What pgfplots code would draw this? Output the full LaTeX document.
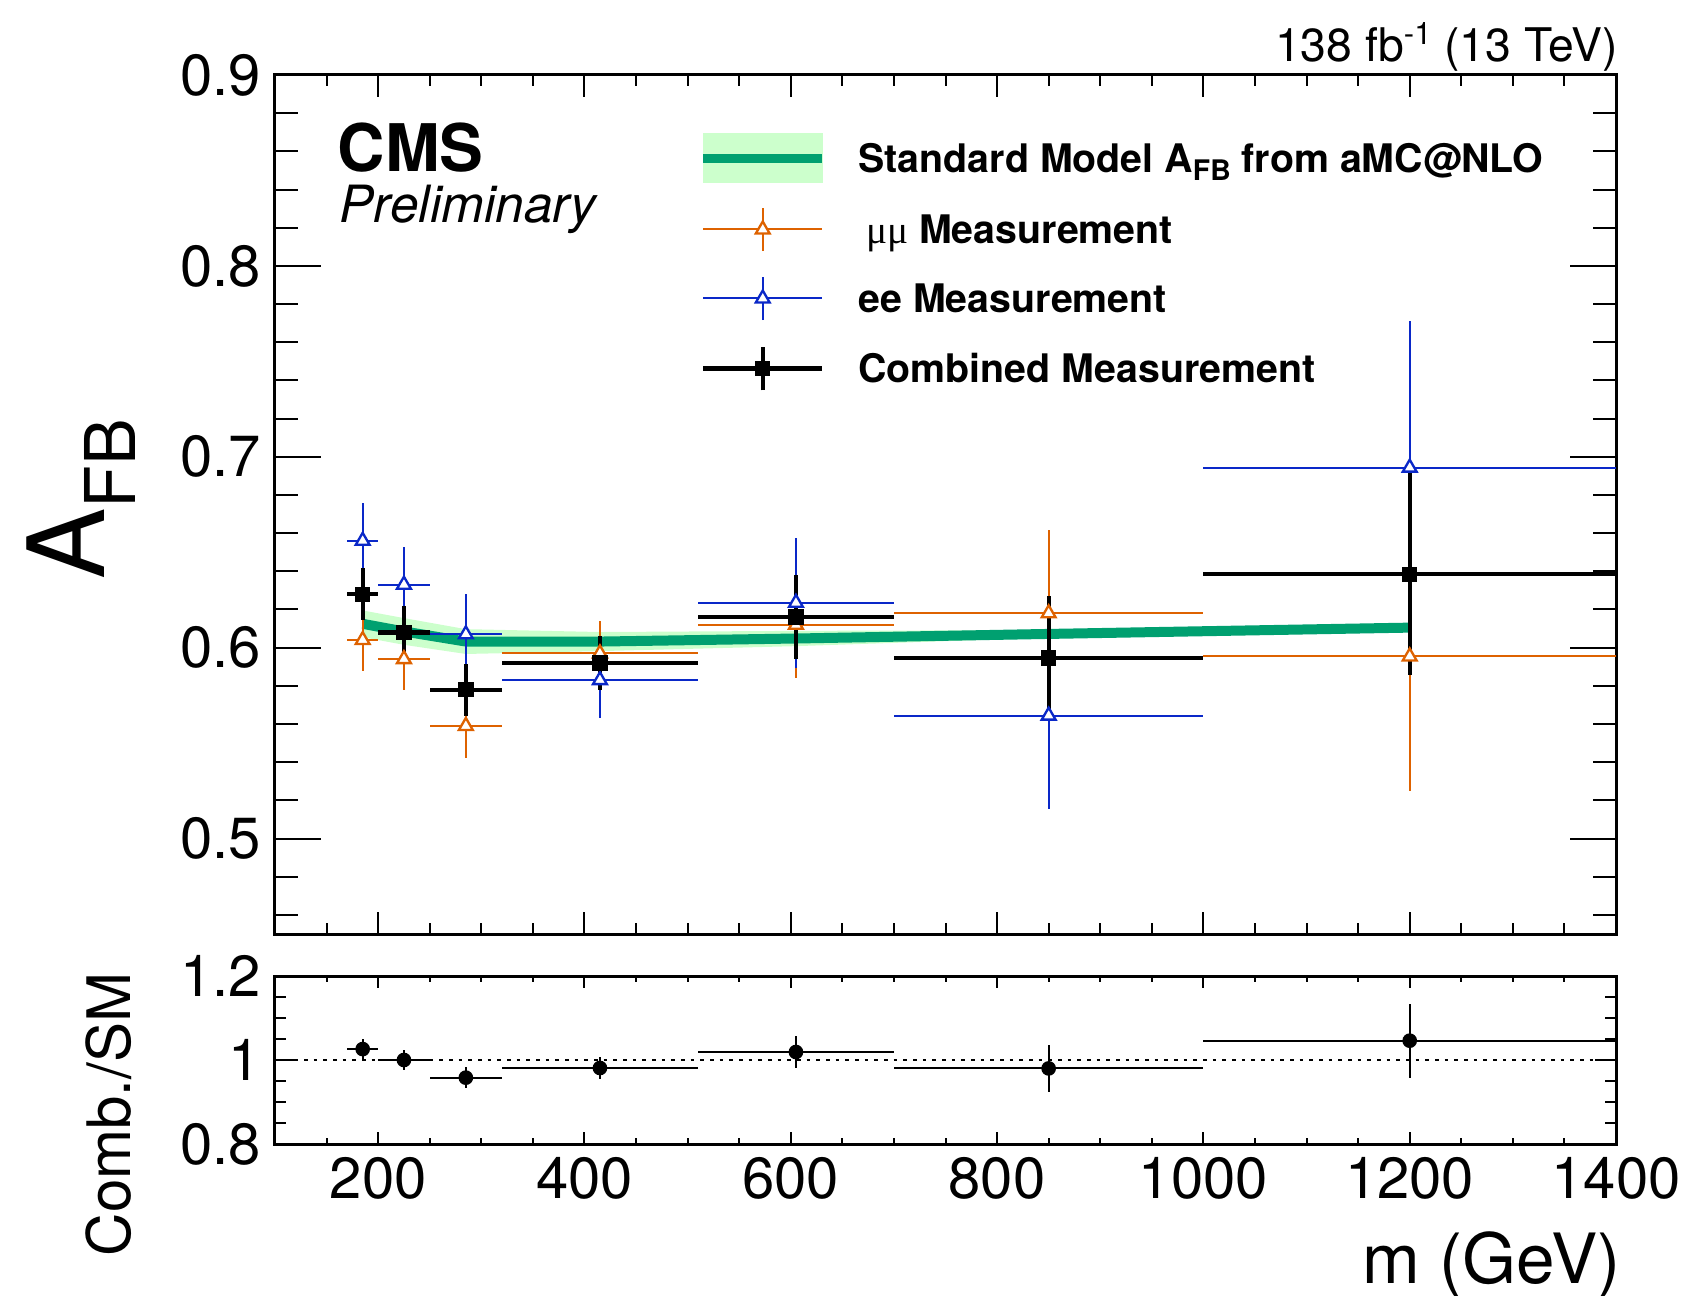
\documentclass[border=0pt]{standalone}
\usepackage{fontspec}
\setmainfont{TeX Gyre Heros}
\newfontfamily\mufont{Liberation Serif}
\usepackage{pgfplots}
\usepackage{pgfplotstable}
\pgfplotsset{compat=1.18}
\definecolor{smgreen}{RGB}{0,160,112}
\definecolor{bandgreen}{RGB}{204,255,204}
\definecolor{muorange}{RGB}{222,98,0}
\definecolor{eeblue}{RGB}{10,40,200}

\pgfplotstableread{
x y ex ey
185 0.628 15 0.0137
225 0.608 25 0.014
285 0.578 35 0.0137
415 0.592 95 0.014
605 0.616 95 0.022
850 0.5946 150 0.0325
1200 0.6385 200 0.053
}\combined
\pgfplotstableread{
x y ex ey
185 0.604 15 0.016
225 0.594 25 0.016
285 0.559 35 0.017
415 0.597 95 0.017
605 0.612 95 0.028
850 0.618 150 0.0435
1200 0.5954 200 0.0706
}\mumu
\pgfplotstableread{
x y ex ey
185 0.656 15 0.020
225 0.633 25 0.020
285 0.607 35 0.021
415 0.583 95 0.020
605 0.6235 95 0.034
850 0.5644 150 0.049
1200 0.6943 200 0.077
}\ee
\pgfplotstableread{
x y
185 0.6125
225 0.6085
285 0.6032
415 0.6032
605 0.6048
850 0.6072
1200 0.6105
}\sm
\pgfplotstableread{
x y ex ey
185 1.026 15 0.023
225 1.000 25 0.024
285 0.958 35 0.025
415 0.981 95 0.026
605 1.019 95 0.037
850 0.980 150 0.055
1200 1.046 200 0.088
}\ratio

\pgfplotsset{
  cmsaxis/.style={
    scale only axis, width=402.3pt,
    xmin=100, xmax=1400,
    axis line style={line width=0.9pt},
    every tick/.style={line width=0.6pt, black},
    tick align=inside,
    xtick={200,400,...,1400},
    minor xtick={100,150,...,1400},
    tick label style={font=\fontsize{17.4}{17.4}\selectfont, inner sep=0pt},
    /pgf/number format/assume math mode=true,
    yticklabel shift=4.1pt,
    xticklabel shift=3.9pt,
  }
}

\begin{document}
\begin{tikzpicture}
\path[use as bounding box] (-82.5pt,-108.3pt) rectangle (424.8pt,280.2pt);
\begin{axis}[cmsaxis,
  at={(0pt,0pt)}, anchor=south west, height=257.7pt,
  ymin=0.45, ymax=0.9,
  ytick={0.5,0.6,0.7,0.8,0.9},
  yticklabels={0.5,0.6,0.7,0.8,0.9},
  minor ytick={0.46,0.48,...,0.9},
  xticklabels={},
  xtick style={/pgfplots/major tick length=6.6pt,/pgfplots/minor tick length=3.3pt},
  ytick style={/pgfplots/major tick length=13.8pt,/pgfplots/minor tick length=6.9pt},
  legend style={at={(0.316,0.9323)}, anchor=north west, draw=none, fill=none,
    inner sep=0pt, outer sep=0pt, row sep=7.1pt, column sep=9.5pt,
    font=\fontsize{11.8}{11.8}\selectfont\bfseries,
    nodes={inner sep=0pt, text height=8.5pt, text depth=0pt}},
  legend cell align=left,
]
% SM band and line
\addplot[fill=bandgreen, draw=none, forget plot] coordinates {
 (185,0.6195) (225,0.6155) (285,0.6097) (415,0.6082) (605,0.6088) (850,0.6092) (1200,0.6115)
 (1200,0.6095) (850,0.6052) (605,0.6008) (415,0.5982) (285,0.5967) (225,0.6015) (185,0.6055)} -- cycle;
\addplot[smgreen, line width=3pt, forget plot] table[x=x,y=y] {\sm};
% mumu
\addplot[only marks, forget plot, mark=triangle*, mark size=2.4pt,
  mark options={draw=muorange, fill=white, line width=0.7pt},
  error bars/.cd, x dir=both, x explicit, y dir=both, y explicit, error mark=none,
  error bar style={muorange, line width=0.6pt}]
  table[x=x,y=y,x error=ex,y error=ey] {\mumu};
% ee
\addplot[only marks, forget plot, mark=triangle*, mark size=2.4pt,
  mark options={draw=eeblue, fill=white, line width=0.7pt},
  error bars/.cd, x dir=both, x explicit, y dir=both, y explicit, error mark=none,
  error bar style={eeblue, line width=0.6pt}]
  table[x=x,y=y,x error=ex,y error=ey] {\ee};
% combined
\addplot[only marks, forget plot, mark=square*, mark size=2.1pt,
  mark options={black},
  error bars/.cd, x dir=both, x explicit, y dir=both, y explicit, error mark=none,
  error bar style={black, line width=1.3pt}]
  table[x=x,y=y,x error=ex,y error=ey] {\combined};

\addlegendimage{legend image code/.code={
  \fill[bandgreen] (0pt,-7.3pt) rectangle (35.7pt,7.3pt);
  \draw[smgreen, line width=2.7pt] (0pt,0pt) -- (35.7pt,0pt);}}
\addlegendentry{Standard Model A\raisebox{-2.6pt}{\fontsize{8.5}{8.5}\selectfont FB} from aMC@NLO}
\addlegendimage{legend image code/.code={
  \draw[muorange, line width=0.6pt] (0pt,0pt) -- (35.7pt,0pt);
  \draw[muorange, line width=0.6pt] (17.85pt,-6.5pt) -- (17.85pt,6.5pt);
  \draw[mark=triangle*, mark size=2.4pt, mark options={draw=muorange, fill=white, line width=0.7pt}] plot coordinates {(17.85pt,0pt)};}}
\addlegendentry{\hspace{2.3pt}{\mufont\mdseries μμ} Measurement}
\addlegendimage{legend image code/.code={
  \draw[eeblue, line width=0.6pt] (0pt,0pt) -- (35.7pt,0pt);
  \draw[eeblue, line width=0.6pt] (17.85pt,-6.5pt) -- (17.85pt,6.5pt);
  \draw[mark=triangle*, mark size=2.4pt, mark options={draw=eeblue, fill=white, line width=0.7pt}] plot coordinates {(17.85pt,0pt)};}}
\addlegendentry{ee Measurement}
\addlegendimage{legend image code/.code={
  \draw[black, line width=1.3pt] (0pt,0pt) -- (35.7pt,0pt);
  \draw[black, line width=1.3pt] (17.85pt,-6.5pt) -- (17.85pt,6.5pt);
  \draw[mark=square*, mark size=2.1pt, mark options={black}] plot coordinates {(17.85pt,0pt)};}}
\addlegendentry{Combined Measurement}
\end{axis}

\begin{axis}[cmsaxis,
  at={(0pt,-63pt)}, anchor=south west, height=50.4pt,
  ymin=0.8, ymax=1.2,
  ytick={0.8,1,1.2},
  yticklabels={0.8,1,1.2},
  minor ytick={0.85,0.9,0.95,1.05,1.1,1.15},
  xticklabels={200,400,600,800,1000,1200,1400},
  xtick style={/pgfplots/major tick length=3.6pt,/pgfplots/minor tick length=1.8pt},
  ytick style={/pgfplots/major tick length=6.3pt,/pgfplots/minor tick length=3.2pt},
]
\addplot[black, line width=0.5pt, dash pattern=on 1.1pt off 1.8pt, forget plot] coordinates {(100,1) (1400,1)};
\addplot[only marks, mark=*, mark size=2pt, mark options={black},
  error bars/.cd, x dir=both, x explicit, y dir=both, y explicit, error mark=none,
  error bar style={black, line width=0.55pt}]
  table[x=x,y=y,x error=ex,y error=ey] {\ratio};
\end{axis}

% texts
\node[anchor=base west, inner sep=0pt, font=\fontsize{19.7}{19.7}\selectfont\bfseries] at (18.6pt,228.6pt) {CMS};
\node[anchor=base west, inner sep=0pt, font=\fontsize{15.4}{15.4}\selectfont\itshape] at (19.2pt,213.3pt) {Preliminary};
\node[anchor=base east, inner sep=0pt, font=\fontsize{13.9}{13.9}\selectfont] at (403pt,261.6pt) {138 fb\raisebox{5.2pt}{\fontsize{9.3}{9.3}\selectfont -1} (13 TeV)};
\node[anchor=base west, rotate=90, inner sep=0pt] at (-51pt,106.2pt) {\fontsize{32}{32}\selectfont A\raisebox{-9.3pt}{\fontsize{21}{21}\selectfont FB}};
\node[anchor=base east, rotate=90, inner sep=0pt, font=\fontsize{18}{18}\selectfont] at (-43.5pt,-11.4pt) {Comb./SM};
\node[anchor=base east, inner sep=0pt, font=\fontsize{20.8}{20.8}\selectfont] at (403.8pt,-104.7pt) {m (GeV)};
\end{tikzpicture}
\end{document}
